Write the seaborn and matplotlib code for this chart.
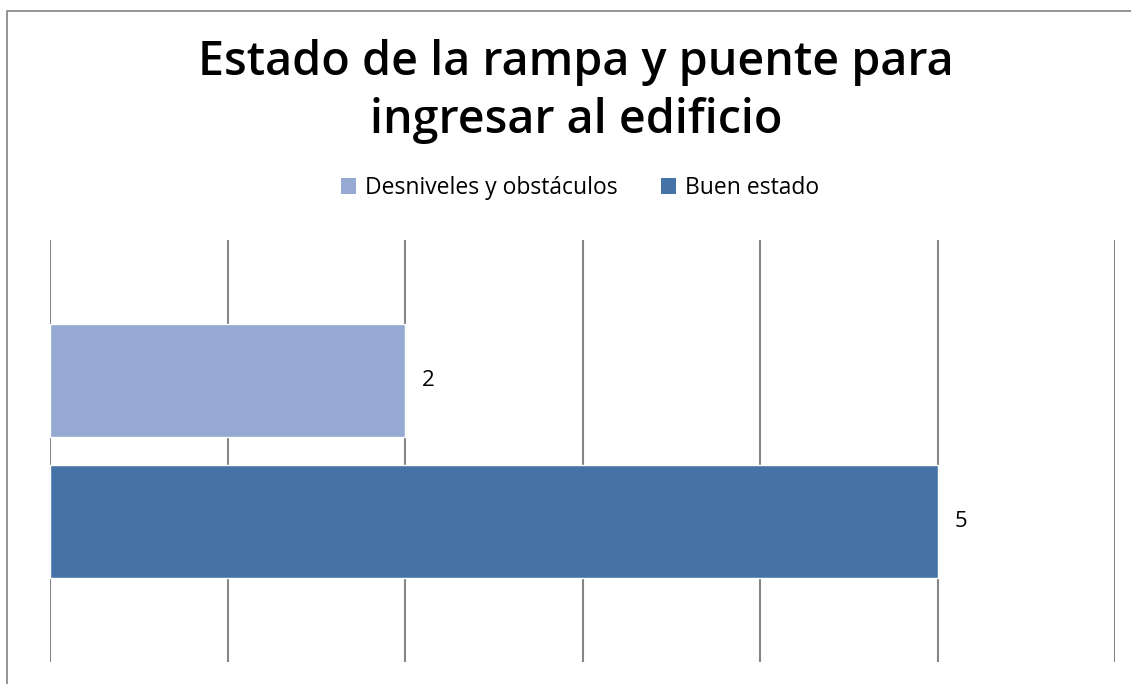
import matplotlib
matplotlib.use("Agg")
import matplotlib.pyplot as plt
import seaborn as sns
import pandas as pd
from matplotlib.patches import Rectangle, Patch

# Survey results: condition of the access ramp and bridge
series = ["Desniveles y obstáculos", "Buen estado"]
counts = [2, 5]
colors = ["#95A9D2", "#4573A7"]
title_lines = ["Estado de la rampa y puente para", "ingresar al edificio"]
x_ticks = [0, 1, 2, 3, 4, 5, 6]

sns.set_theme(style="white")
plt.rcParams["font.family"] = ["Open Sans", "DejaVu Sans"]
plt.rcParams["text.color"] = "black"

df = pd.DataFrame({"serie": series, "valor": counts})

W, H = 1131, 684
fig = plt.figure(figsize=(W / 100, H / 100), dpi=100)
fig.patch.set_facecolor("white")

# chart-area border (runs off the right and bottom edges)
fig.add_artist(Rectangle((7 / W, -0.05), 1.1, 1 - 11 / H + 0.05,
                         transform=fig.transFigure, fill=False,
                         edgecolor="#8C8C8C", linewidth=1.3))

ax = fig.add_axes([50 / W, 1 - 662 / H, (1115 - 50) / W, (662 - 240) / H])
sns.barplot(data=df, x="valor", y="serie", hue="serie", order=series,
            hue_order=series, palette=colors, width=0.8, dodge=False,
            legend=False, ax=ax, saturation=1)

ax.set_xlim(x_ticks[0], x_ticks[-1])
ax.set_ylim(1.995, -0.995)
ax.set_xticks(x_ticks)
ax.set_yticks([])
ax.set_xticklabels([])
ax.tick_params(length=0)
ax.set_xlabel("")
ax.set_ylabel("")
for s in ax.spines.values():
    s.set_visible(False)
ax.grid(False)
for xv in x_ticks:
    ax.axvline(xv, color="#868686", linewidth=1.5, zorder=0)

for i, v in enumerate(counts):
    ax.annotate(str(v), xy=(v, i), xytext=(17, 0), textcoords="offset pixels",
                va="center", ha="left", fontsize=16, color="black")

for line, base in zip(title_lines, [75, 133]):
    fig.text(576 / W, 1 - base / H, line, ha="center", va="baseline",
             fontsize=33.6, fontweight="semibold", color="black")

handles = [Patch(facecolor=c, edgecolor="none") for c in colors]
fig.legend(handles, series, loc="center", bbox_to_anchor=(580 / W, 1 - 188 / H),
           ncol=2, frameon=False, fontsize=16.5, handlelength=0.65, handleheight=0.65,
           handletextpad=0.4, columnspacing=1.9)

fig.savefig("out.png", dpi=100, facecolor="white")
